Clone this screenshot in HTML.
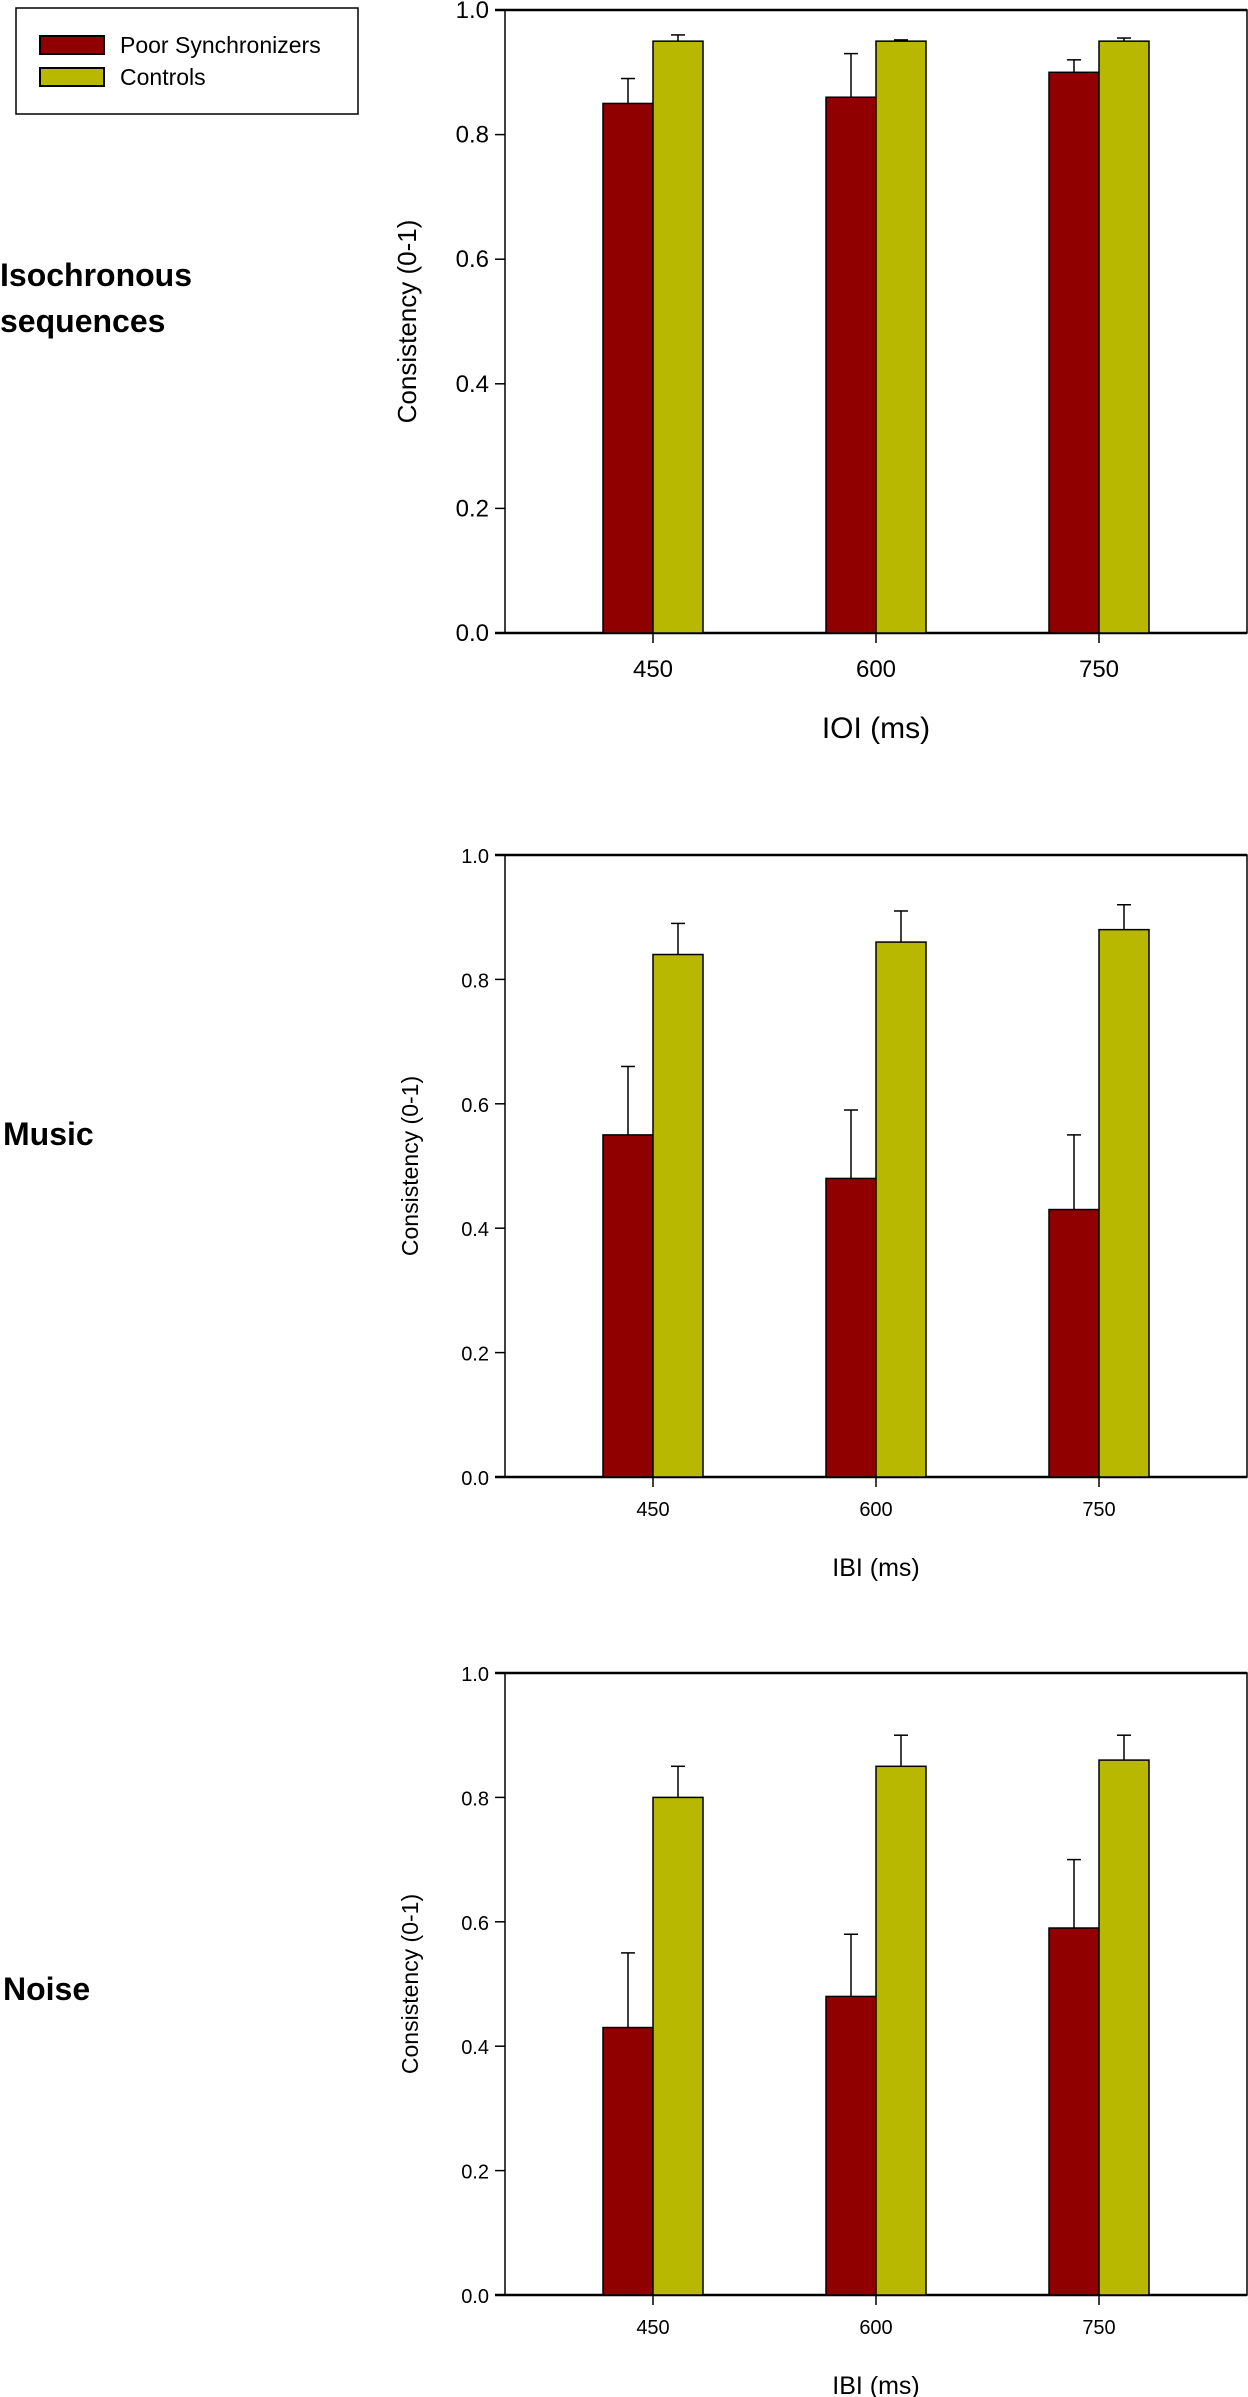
<!DOCTYPE html>
<html><head><meta charset="utf-8"><style>
html,body{margin:0;padding:0;background:#fff;width:1248px;height:2397px;overflow:hidden}
svg{display:block}
text{font-family:"Liberation Sans",Arial,sans-serif;fill:#000}
.narrow{font-family:"Liberation Sans Narrow","Liberation Sans",sans-serif}
</style></head><body>
<svg id="fig" width="1248" height="2397" viewBox="0 0 1248 2397" xmlns="http://www.w3.org/2000/svg">
  <g>
    <rect x="16" y="8" width="342" height="106" fill="#fff" stroke="#000" stroke-width="1.5"/>
    <rect x="40" y="36" width="64" height="18" fill="#900000" stroke="#000" stroke-width="2"/>
    <text x="120" y="53" font-size="23" class="narrow">Poor Synchronizers</text>
    <rect x="40" y="68" width="64" height="18" fill="#b8b800" stroke="#000" stroke-width="2"/>
    <text x="120" y="85" font-size="23" class="narrow">Controls</text>
  </g>
  <text x="0" y="286" font-size="32" font-weight="bold" class="narrow">Isochronous</text>
  <text x="0" y="332" font-size="32" font-weight="bold" class="narrow">sequences</text>
  <text x="3" y="1145" font-size="32" font-weight="bold" class="narrow">Music</text>
  <text x="3" y="2000" font-size="32" font-weight="bold" class="narrow">Noise</text>
</svg>
<script>
const categories = ["450", "600", "750"];
const yTicks = ["0.0", "0.2", "0.4", "0.6", "0.8", "1.0"];
const isoPoor = [0.85, 0.86, 0.90];
const isoPoorErr = [0.89, 0.93, 0.92];
const isoCtrl = [0.95, 0.95, 0.95];
const isoCtrlErr = [0.96, 0.952, 0.955];
const musicPoor = [0.55, 0.48, 0.43];
const musicPoorErr = [0.66, 0.59, 0.55];
const musicCtrl = [0.84, 0.86, 0.88];
const musicCtrlErr = [0.89, 0.91, 0.92];
const noisePoor = [0.43, 0.48, 0.59];
const noisePoorErr = [0.55, 0.58, 0.70];
const noiseCtrl = [0.80, 0.85, 0.86];
const noiseCtrlErr = [0.85, 0.90, 0.90];

const NS = "http://www.w3.org/2000/svg";
const svg = document.getElementById("fig");
function mk(tag, attrs, parent) {
  const e = document.createElementNS(NS, tag);
  for (const k in attrs) e.setAttribute(k, attrs[k]);
  (parent || svg).appendChild(e);
  return e;
}
function drawChart(cfg) {
  const g = mk("g", {});
  
  
  const L = 505, R = 1247, top = cfg.top, bot = cfg.bottom;
  const y = v => bot - v * (bot - top);
  const xc = i => 653 + i * 223;
  const bw = 50;
  const fam = cfg.narrow ? "narrow" : "";
  const frame = mk("rect", {x: L, y: top, width: R - L, height: bot - top, fill: "none", stroke: "#000", "stroke-width": 1.5}, g);
  
  
  mk("line", {x1: L - 10, x2: R, y1: bot, y2: bot, stroke: "#000", "stroke-width": 2.5}, g);
  mk("line", {x1: L - 10, x2: R, y1: top, y2: top, stroke: "#000", "stroke-width": 2.5}, g);
  yTicks.forEach(t => {
    const v = parseFloat(t);
    mk("line", {x1: L - 10, x2: L, y1: y(v), y2: y(v), stroke: "#000", "stroke-width": 1.5}, g);
    const tx = mk("text", {x: L - 16, y: y(v) + 8, "font-size": cfg.tickSize, "text-anchor": "end", class: fam}, g);
    tx.textContent = t;
    
    
  });
  categories.forEach((c, i) => {
    mk("line", {x1: xc(i), x2: xc(i), y1: bot, y2: bot + 10, stroke: "#000", "stroke-width": 1.5}, g);
    const tx = mk("text", {x: xc(i), y: bot + cfg.tickDy, "font-size": cfg.tickSize, "text-anchor": "middle", class: fam}, g);
    tx.textContent = c;
    
    
    const series = [[cfg.poor, cfg.poorErr, "#900000", xc(i) - bw, "bar-poor"], [cfg.ctrl, cfg.ctrlErr, "#b8b800", xc(i), "bar-controls"]];
    series.forEach(s => {
      const v = s[0][i], e = s[1][i], bx = s[3];
      const ex = bx + bw / 2;
      mk("line", {x1: ex, x2: ex, y1: y(v), y2: y(e), stroke: "#000", "stroke-width": 1.5}, g);
      mk("line", {x1: ex - 7, x2: ex + 7, y1: y(e), y2: y(e), stroke: "#000", "stroke-width": 1.5}, g);
      const b = mk("rect", {x: bx, y: y(v), width: bw, height: bot - y(v), fill: s[2], stroke: "#000", "stroke-width": 1.5}, g);
      
      
    });
  });
  const xt = mk("text", {x: 876, y: bot + cfg.titleDy, "font-size": cfg.titleSize, "text-anchor": "middle", class: fam}, g);
  xt.textContent = cfg.xTitle;
  
  
  const cy = (top + bot) / 2;
  const yt = mk("text", {x: 0, y: 0, "font-size": cfg.yTitleSize, "text-anchor": "middle", transform: "translate(" + (cfg.yTitleX) + "," + cy + ") rotate(-90)"}, g);
  yt.textContent = "Consistency (0-1)";
  
  
}
drawChart({name: "chart-isochronous", top: 10, bottom: 633, poor: isoPoor, poorErr: isoPoorErr, ctrl: isoCtrl, ctrlErr: isoCtrlErr, xTitle: "IOI (ms)", narrow: true, tickSize: 24, tickDy: 44, titleSize: 30, titleDy: 105, yTitleSize: 26, yTitleX: 416});
drawChart({name: "chart-music", top: 855, bottom: 1477, poor: musicPoor, poorErr: musicPoorErr, ctrl: musicCtrl, ctrlErr: musicCtrlErr, xTitle: "IBI (ms)", narrow: false, tickSize: 20, tickDy: 39, titleSize: 25, titleDy: 99, yTitleSize: 23, yTitleX: 418});
drawChart({name: "chart-noise", top: 1673, bottom: 2295, poor: noisePoor, poorErr: noisePoorErr, ctrl: noiseCtrl, ctrlErr: noiseCtrlErr, xTitle: "IBI (ms)", narrow: false, tickSize: 20, tickDy: 39, titleSize: 25, titleDy: 99, yTitleSize: 23, yTitleX: 418});
</script>
</body></html>
